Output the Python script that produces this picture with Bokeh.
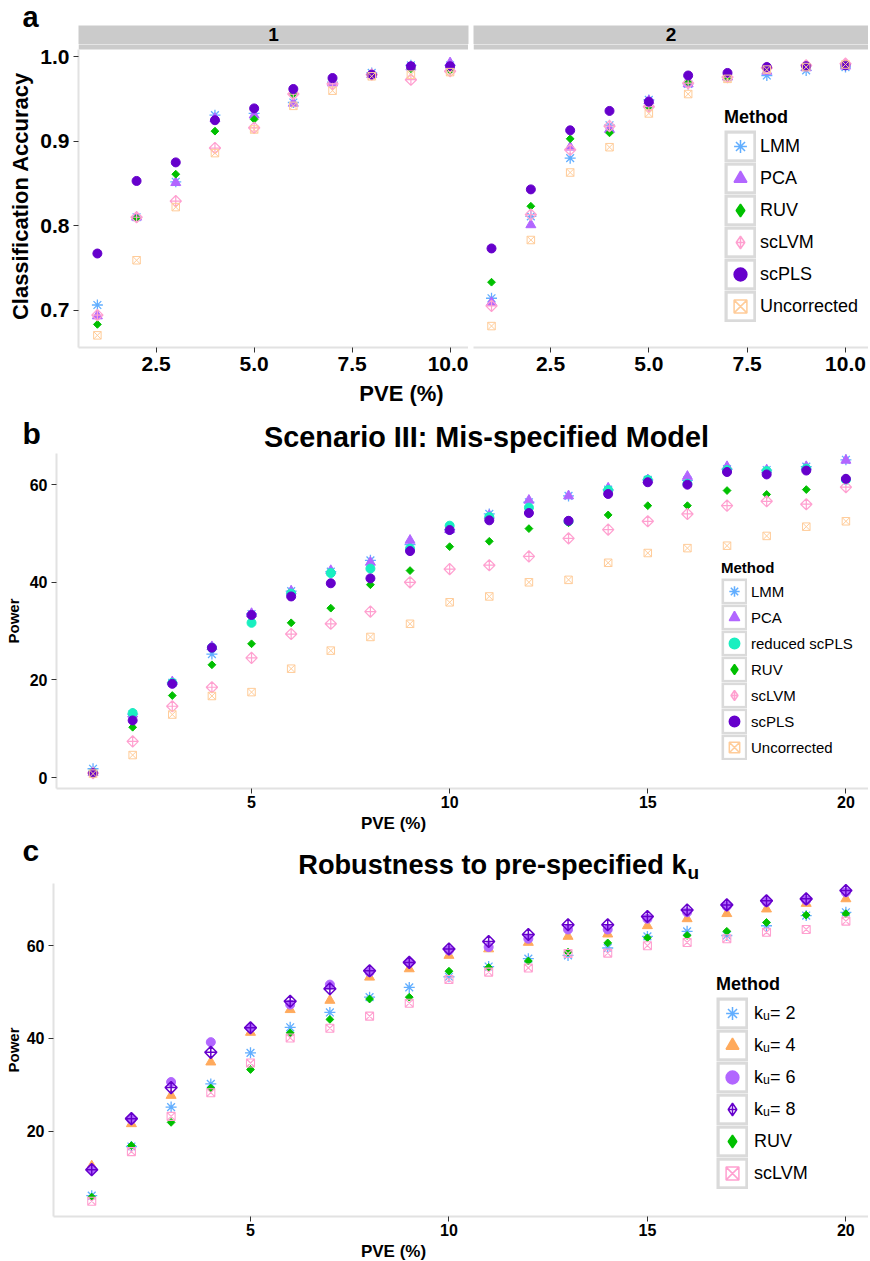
import math
from bokeh.plotting import figure
from bokeh.models import (Range1d, Legend, LegendItem, FixedTicker,
                          NumeralTickFormatter)
from bokeh.core.properties import value
from bokeh.layouts import column, row
from bokeh.embed import file_html
from bokeh.resources import INLINE

FONT = "Liberation Sans"
NAN = float("nan")

# ---------------- data ----------------
# panel a : classification accuracy, two facets
pve_a = [1, 2, 3, 4, 5, 6, 7, 8, 9, 10]
facet_labels = ["1", "2"]
methods_a = ["LMM", "PCA", "RUV", "scLVM", "scPLS", "Uncorrected"]
f1_lmm = [0.706, 0.810, 0.852, 0.931, 0.933, 0.946, 0.970, 0.981, 0.990, 0.990]
f1_pca = [0.693, 0.810, 0.851, 0.927, 0.931, 0.945, 0.969, 0.979, 0.988, 0.993]
f1_ruv = [0.683, 0.809, 0.861, 0.912, 0.926, 0.956, 0.973, 0.979, 0.986, 0.984]
f1_sclvm = [0.694, 0.810, 0.829, 0.892, 0.916, 0.956, 0.968, 0.979, 0.973, 0.983]
f1_scpls = [0.767, 0.853, 0.875, 0.925, 0.939, 0.962, 0.975, 0.979, 0.989, 0.989]
f1_unc = [0.670, 0.759, 0.822, 0.886, 0.914, 0.942, 0.960, 0.977, 0.979, 0.982]
f2_lmm = [0.714, 0.811, 0.880, 0.919, 0.949, 0.968, 0.976, 0.978, 0.984, 0.988]
f2_pca = [0.709, 0.801, 0.893, 0.914, 0.948, 0.968, 0.976, 0.983, 0.987, 0.989]
f2_ruv = [0.733, 0.823, 0.903, 0.910, 0.941, 0.970, 0.976, 0.987, 0.989, 0.992]
f2_sclvm = [0.705, 0.813, 0.890, 0.918, 0.941, 0.969, 0.976, 0.987, 0.990, 0.992]
f2_scpls = [0.773, 0.843, 0.913, 0.936, 0.947, 0.978, 0.981, 0.988, 0.989, 0.990]
f2_unc = [0.681, 0.783, 0.863, 0.893, 0.933, 0.956, 0.974, 0.985, 0.988, 0.991]

# panel b : power, mis-specified model
pve_b = list(range(1, 21))
methods_b = ["LMM", "PCA", "reduced scPLS", "RUV", "scLVM", "scPLS", "Uncorrected"]
b_lmm = [1.8, 13.0, 19.4, 25.3, 33.5, 38.2, 42.2, 44.5, 47.7, 50.8, 54.0, 56.4, 57.7, 59.0, 61.0, 60.9, 63.2, 63.0, 63.7, 65.1]
b_pca = [1.0, 13.0, 19.6, 26.8, 33.6, 38.2, 42.4, 44.1, 48.6, 50.8, 53.7, 56.8, 57.7, 59.3, 61.0, 61.7, 63.7, 63.0, 63.7, 65.0]
b_reduced = [1.0, 13.2, 19.4, 26.6, 31.7, 37.7, 41.9, 42.8, 46.9, 51.6, 53.4, 55.3, 52.5, 58.9, 61.0, 60.2, 63.0, 62.8, 63.3, 61.0]
b_ruv = [1.0, 10.3, 16.8, 23.1, 27.4, 31.7, 34.7, 39.5, 42.4, 47.3, 48.4, 51.0, 52.2, 53.8, 55.7, 55.7, 58.8, 58.0, 59.0, 61.4]
b_sclvm = [0.9, 7.4, 14.6, 18.5, 24.5, 29.4, 31.5, 34.0, 40.0, 42.7, 43.5, 45.3, 49.0, 50.8, 52.5, 54.0, 55.7, 56.6, 56.0, 59.5]
b_scpls = [0.9, 11.7, 19.2, 26.6, 33.3, 37.1, 39.8, 40.8, 46.4, 50.7, 52.7, 54.2, 52.6, 58.1, 60.5, 60.0, 62.6, 62.1, 62.9, 61.2]
b_unc = [0.8, 4.6, 12.9, 16.7, 17.5, 22.3, 26.0, 28.8, 31.5, 35.9, 37.1, 40.0, 40.5, 44.0, 46.0, 47.0, 47.5, 49.5, 51.4, 52.5]

# panel c : robustness to k_u
pve_c = list(range(1, 21))
methods_c = ["kᵤ= 2", "kᵤ= 4", "kᵤ= 6", "kᵤ= 8", "RUV", "scLVM"]
c_k2 = [6.1, 16.7, 25.2, 30.2, 36.9, 42.4, 45.6, 48.9, 51.0, 53.3, 55.5, 57.2, 57.9, 59.5, 62.0, 63.1, 62.2, 64.3, 66.5, 67.2]
c_k4 = [12.5, 21.6, 27.7, 34.9, 41.3, 46.2, 48.2, 53.2, 55.0, 57.9, 59.3, 60.7, 62.0, 62.5, 64.3, 65.8, 66.9, 67.9, 69.1, 70.1]
c_k6 = [11.8, 22.5, 30.6, 39.2, 42.3, 47.3, 51.6, 54.3, 56.4, 59.0, 59.7, 61.5, 63.5, 63.5, 65.8, 67.2, 68.5, 69.4, 69.8, 71.5]
c_k8 = [11.7, 22.7, 29.4, 37.0, 42.3, 48.0, 50.7, 54.6, 56.4, 59.3, 60.9, 62.4, 64.5, 64.5, 66.3, 67.7, 68.8, 69.7, 70.1, 71.9]
c_ruv = [5.8, 16.9, 21.9, 29.3, 33.3, 41.2, 44.1, 48.5, 48.9, 54.5, 55.3, 56.7, 58.6, 60.6, 61.7, 62.2, 63.1, 65.0, 66.6, 66.9]
c_sclvm = [4.9, 15.6, 23.2, 28.3, 34.7, 40.1, 42.2, 44.8, 47.6, 52.7, 54.3, 55.2, 58.3, 58.4, 60.0, 60.7, 61.5, 62.9, 63.5, 65.3]

ticks_a_x = [2.5, 5.0, 7.5, 10.0]
ticks_a_y = [0.7, 0.8, 0.9, 1.0]
ticks_bc_x = [5, 10, 15, 20]
ticks_b_y = [0, 20, 40, 60]
ticks_c_y = [20, 40, 60]

# ---------------- styles ----------------
Q = math.pi / 4
COL = {"LMM": "#62AEFF", "PCA": "#B266FF", "RUV": "#00C000", "scLVM": "#FFA0D0",
       "scPLS": "#6600CC", "Uncorrected": "#FFCC99", "reduced scPLS": "#19EFC0",
       "k4": "#FFAA5C"}
STRIP = "#CBCBCB"
CELL = "#DADADA"


def st(marker, color, filled, lw=1.2, angle=0.0):
    return dict(marker=marker, line_color=color, fill_color=color if filled else None,
                line_width=lw, angle=angle)


STY = {
    "LMM": st("asterisk", COL["LMM"], False, 1.3),
    "PCA": st("triangle", COL["PCA"], True, 1),
    "RUV": st("square", COL["RUV"], True, 1, Q),
    "scLVM": st("square_x", COL["scLVM"], False, 1.2, Q),
    "scPLS": st("circle", COL["scPLS"], True, 1),
    "Uncorrected": st("square_x", COL["Uncorrected"], False, 1),
    "reduced scPLS": st("circle", COL["reduced scPLS"], True, 1),
    "kᵤ= 2": st("asterisk", COL["LMM"], False, 1.3),
    "kᵤ= 4": st("triangle", COL["k4"], True, 1),
    "kᵤ= 6": st("circle", COL["PCA"], True, 1),
    "kᵤ= 8": st("square_x", COL["scPLS"], False, 1.5, Q),
    "scLVM_c": st("square_x", COL["scLVM"], False, 1.1),
}
# legend keys ignore marker rotation: use the diamond-shaped markers there
LEG_MARKER = {"scLVM": "diamond_cross", "kᵤ= 8": "diamond_cross", "RUV": "diamond"}
SIZE = {"LMM": 11, "PCA": 10, "RUV": 5.5, "scLVM": 8, "scPLS": 9, "Uncorrected": 7.5,
        "reduced scPLS": 9, "kᵤ= 2": 11, "kᵤ= 4": 10, "kᵤ= 6": 9, "kᵤ= 8": 8.5,
        "scLVM_c": 8}

W = 868


def base_fig(w, h, xr, yr, bl, br, bt, bb, **kw):
    p = figure(width=w, height=h, x_range=Range1d(*xr), y_range=Range1d(*yr),
               toolbar_location=None, output_backend="svg",
               min_border_left=bl, min_border_right=br, min_border_top=bt,
               min_border_bottom=bb, **kw)
    p.frame_align = False
    p.grid.visible = False
    p.outline_line_color = None
    p.background_fill_color = "white"
    p.border_fill_color = "white"
    return p


def canvas(y0, y1):
    c = figure(width=W, height=y1 - y0, x_range=Range1d(0, W), y_range=Range1d(y1, y0),
               toolbar_location=None, output_backend="svg", x_axis_type=None,
               y_axis_type=None, min_border_left=0, min_border_right=0,
               min_border_top=0, min_border_bottom=0)
    c.frame_align = False
    c.grid.visible = False
    c.outline_line_color = None
    c.background_fill_color = "white"
    c.border_fill_color = "white"
    return c


def txt(p, x, y, s, fs, align="center", bold=True):
    """y is the vertical middle of the text line"""
    p.text(x=[x], y=[y], text=[s], text_font=value(FONT), text_font_size=f"{fs}px",
           text_font_style="bold" if bold else "normal", text_align=align,
           text_baseline="middle", text_color="black")


def mid(baseline, fs):
    return baseline - 0.35 * fs


def style_axis(ax, ticks, fs, standoff, fmt=None):
    ax.ticker = FixedTicker(ticks=ticks)
    if fmt:
        ax.formatter = NumeralTickFormatter(format=fmt)
    ax.axis_line_color = "#E2E2E2"
    ax.axis_line_width = 2
    ax.major_tick_line_color = "#333333"
    ax.major_tick_line_width = 1
    ax.major_tick_out = 5
    ax.major_tick_in = 0
    ax.minor_tick_line_color = None
    ax.major_label_text_font = FONT
    ax.major_label_text_font_style = "bold"
    ax.major_label_text_font_size = f"{fs}px"
    ax.major_label_text_color = "black"
    ax.major_label_standoff = standoff


def style_axis_label(ax, text, fs, standoff):
    ax.axis_label = text
    ax.axis_label_text_font = FONT
    ax.axis_label_text_font_style = "bold"
    ax.axis_label_text_font_size = f"{fs}px"
    ax.axis_label_text_color = "black"
    ax.axis_label_standoff = standoff


def add_legend(p, labels, keys, glyph, fs, loc, pad, bg_alpha, standoff):
    items = []
    for lab, key in zip(labels, keys):
        frame_r = p.line(x=[NAN], y=[NAN], line_color=CELL, line_width=glyph)
        inner_r = p.rect(x=[NAN], y=[NAN], width=1, height=1, fill_color="white",
                         line_color=None)
        s = dict(STY[key])
        s["line_width"] = max(s["line_width"], 1.5)
        s["angle"] = 0.0
        s["marker"] = LEG_MARKER.get(key, s["marker"])
        mk = p.scatter(x=[NAN], y=[NAN], size=1, **s)
        items.append(LegendItem(label=lab, renderers=[frame_r, inner_r, mk]))
    leg = Legend(items=items, location=loc, title="Method",
                 glyph_width=glyph, glyph_height=glyph, spacing=0,
                 padding=pad, margin=0, label_standoff=standoff,
                 label_text_font=FONT, label_text_font_size=f"{fs}px",
                 label_text_color="black",
                 title_text_font=FONT, title_text_font_style="bold",
                 title_text_font_size=f"{fs}px", title_text_color="black",
                 title_standoff=2,
                 border_line_color=None, background_fill_color="white",
                 background_fill_alpha=bg_alpha)
    p.add_layout(leg)


# ---------------- top canvas: panel letter + facet strips ----------------
c0 = canvas(0, 44)
c0.quad(left=[78, 473], right=[468, W], top=[25, 25], bottom=[44.5, 44.5],
        fill_color=STRIP, line_color=None)
c0.text(x=[273, 670.5], y=[33.6, 33.6], text=facet_labels, text_font=value(FONT),
        text_font_size="19px", text_font_style="bold", text_align="center",
        text_baseline="middle", text_color="black")
txt(c0, 22, 16.5, "a", 29, "left")

# ---------------- panel a facets ----------------
Y_A_TOP = 1.0088                     # data top of the panel (strip begins above)
yr_a = (0.6556, Y_A_TOP + 5 * (Y_A_TOP - 0.6556) / 298)
xr_a1 = (0.518, 10.47)
xr_a2 = (0.542, 10.585)

a1 = base_fig(468, 303 + 33, xr_a1, yr_a, 78, 0, 0, 33)
a2 = base_fig(400, 303 + 33, xr_a2, yr_a, 5, 0, 0, 33, y_axis_location=None)

style_axis(a1.xaxis[0], ticks_a_x, 21, 4, "0.0")
style_axis(a1.yaxis[0], ticks_a_y, 21, 4, "0.0")
a1.yaxis[0].bounds = (yr_a[0], Y_A_TOP)
style_axis_label(a1.yaxis[0], "Classification Accuracy", 22, 4)
style_axis(a2.xaxis[0], ticks_a_x, 21, 4, "0.0")

for p, xr in ((a1, xr_a1), (a2, xr_a2)):
    p.quad(left=[xr[0]], right=[xr[1]], bottom=[Y_A_TOP], top=[yr_a[1] + 0.002],
           fill_color=STRIP, line_color=None)

f1 = [f1_lmm, f1_pca, f1_ruv, f1_sclvm, f1_scpls, f1_unc]
f2 = [f2_lmm, f2_pca, f2_ruv, f2_sclvm, f2_scpls, f2_unc]
for p, series in ((a1, f1), (a2, f2)):
    for m, ys in zip(methods_a, series):
        p.scatter(x=pve_a, y=ys, size=SIZE[m], **STY[m])

add_legend(a2, methods_a, methods_a, 32, 18, (251, 25), 0, 0.0, 4)

# ---------------- canvas between a and b ----------------
c1 = canvas(380, 453)
txt(c1, 401, 393, "PVE (%)", 22)
txt(c1, 22, mid(443, 30), "b", 30, "left")
txt(c1, 486, mid(446.5, 28.8), "Scenario III: Mis-specified Model", 28.8, "center")

# ---------------- panel b ----------------
xr_b = (0.078, 20.57)
yr_b = (-2.25, 66.39)
pb = base_fig(W, 335 + 25, xr_b, yr_b, 56, 0, 0, 25)
style_axis(pb.xaxis[0], ticks_bc_x, 16, 2)
style_axis(pb.yaxis[0], ticks_b_y, 16, 4)
style_axis_label(pb.yaxis[0], "Power", 15, 5)
series_b = [b_lmm, b_pca, b_reduced, b_ruv, b_sclvm, b_scpls, b_unc]
for m, ys in zip(methods_b, series_b):
    pb.scatter(x=pve_b, y=ys, size=SIZE[m], **STY[m])
add_legend(pb, methods_b, methods_b, 26, 15, (665, 28), 3, 1.0, 4)

# ---------------- canvas between b and c ----------------
c2 = canvas(813, 883)
txt(c2, 393, 822.5, "PVE (%)", 17)
txt(c2, 22, mid(860, 30), "c", 30, "left")
txt(c2, 686, mid(873.5, 27.2), "Robustness to pre-specified k", 27.2, "right")
txt(c2, 687, mid(879, 19), "u", 19, "left")

# ---------------- panel c ----------------
xr_c = (0.037, 20.57)
yr_c = (1.6, 73.41)
pc = base_fig(W, 333 + 25, xr_c, yr_c, 53, 0, 0, 25)
style_axis(pc.xaxis[0], ticks_bc_x, 16, 2)
style_axis(pc.yaxis[0], ticks_c_y, 16, 4)
style_axis_label(pc.yaxis[0], "Power", 15, 2)
keys_c = ["kᵤ= 2", "kᵤ= 4", "kᵤ= 6", "kᵤ= 8", "RUV", "scLVM_c"]
series_c = [c_k2, c_k4, c_k6, c_k8, c_ruv, c_sclvm]
for k, ys in zip(keys_c, series_c):
    pc.scatter(x=pve_c, y=ys, size=SIZE[k], **STY[k])
add_legend(pc, methods_c, keys_c, 32, 18, (663, 27), 3, 1.0, 6)

# ---------------- bottom canvas ----------------
c3 = canvas(1241, 1260)
txt(c3, 393, 1250.5, "PVE (%)", 17)

layout = column(c0, row(a1, a2), c1, pb, c2, pc, c3)
open("out.html", "w").write(file_html(layout, INLINE))
